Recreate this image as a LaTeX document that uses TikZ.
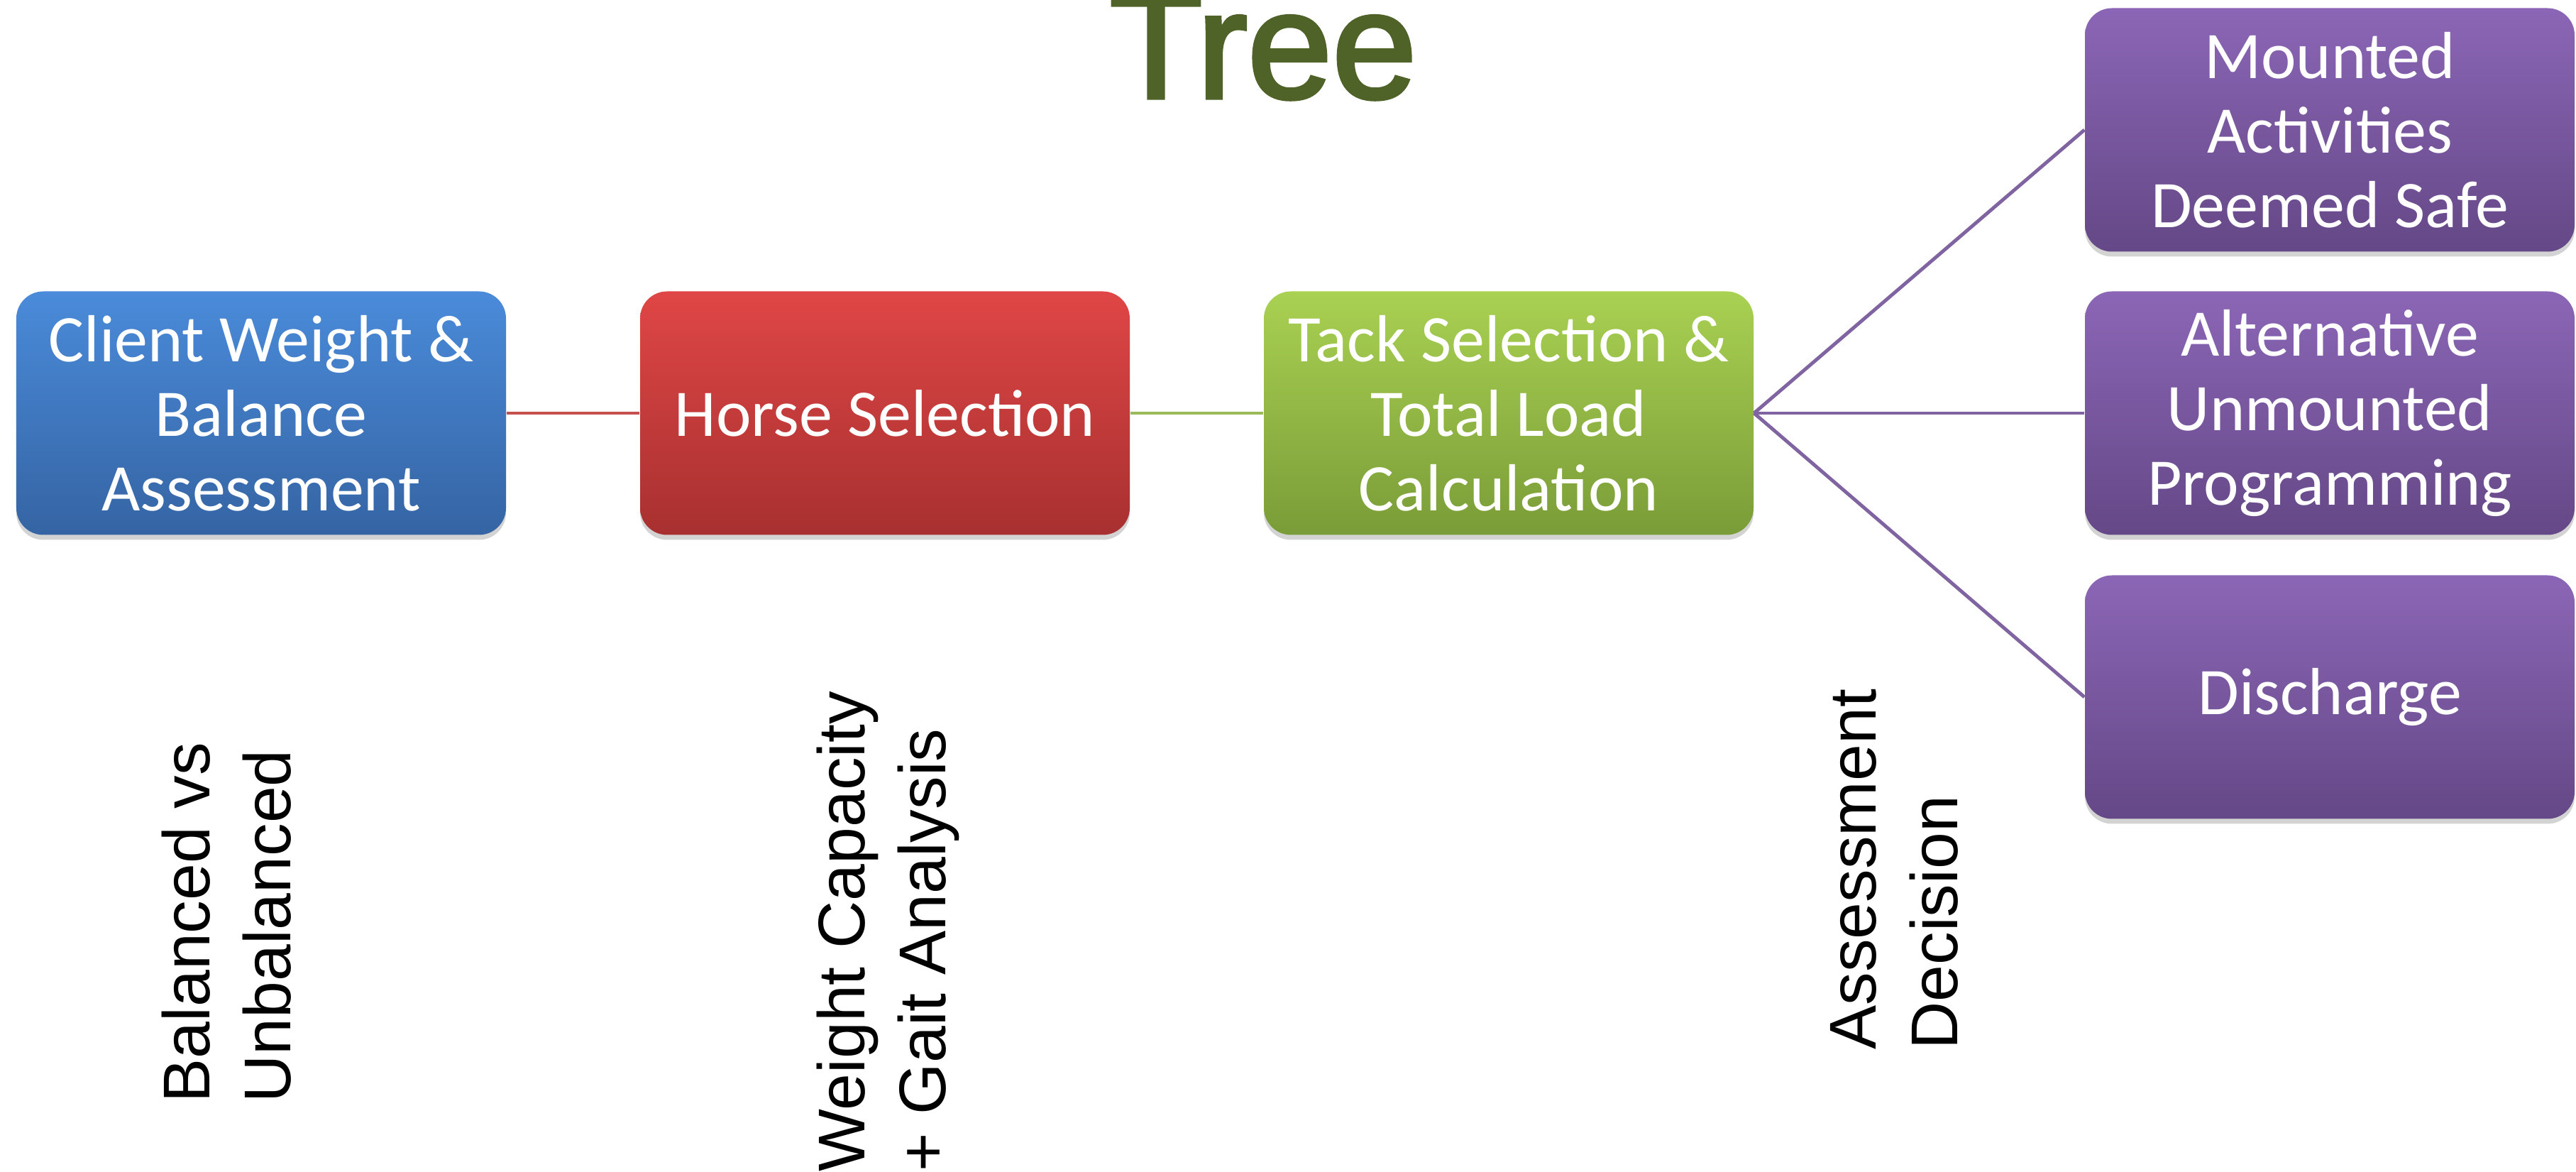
\documentclass[tikz,border=0pt]{standalone}
\usepackage{fontspec}
\setmainfont{Liberation Sans}
\newfontfamily\calfont{Carlito}
\newfontfamily\titlefont[FakeBold=2.5]{Liberation Sans}
\usetikzlibrary{shadows}

\definecolor{titlegreen}{HTML}{4F6228}
\definecolor{bluetop}{HTML}{4A8BDA}
\definecolor{bluebot}{HTML}{3564A3}
\definecolor{redtop}{HTML}{E04646}
\definecolor{redbot}{HTML}{A83030}
\definecolor{greentop}{HTML}{A9D152}
\definecolor{greenbot}{HTML}{7A9C38}
\definecolor{purptop}{HTML}{8B66B6}
\definecolor{purpbot}{HTML}{654887}
\definecolor{redline}{HTML}{C65050}
\definecolor{greenline}{HTML}{9BBB59}
\definecolor{purpline}{HTML}{8064A2}

\begin{document}
\begin{tikzpicture}[
    box/.style={rounded corners=0.38cm, minimum width=6.9cm, minimum height=3.43cm,
        align=center, text=white, font=\calfont\fontsize{26.7}{29.9}\selectfont,
        drop shadow={opacity=0.35, shadow xshift=0cm, shadow yshift=-0.07cm}},
    bluebox/.style={box, top color=bluetop, bottom color=bluebot},
    redbox/.style={box, top color=redtop, bottom color=redbot},
    greenbox/.style={box, top color=greentop, bottom color=greenbot},
    purpbox/.style={box, top color=purptop, bottom color=purpbot},
    note/.style={rotate=90, anchor=north west, align=left, inner sep=0pt,
        font=\fontsize{26.5}{32.5}\selectfont},
    link/.style={line width=1.4pt}
]
\useasboundingbox (0,0) rectangle (36.3,16.51);

\node[anchor=base, text=titlegreen, font=\titlefont\fontsize{61}{64}\selectfont] (title) at (17.80,15.13) {Tree};

% main row
\node[bluebox] (client) at (3.68,10.69) {Client Weight \&\\Balance\\Assessment};
\node[redbox] (horse) at (12.47,10.69) {Horse Selection};
\node[greenbox] (tack) at (21.26,10.69) {Tack Selection \&\\Total Load\\Calculation};

% outcomes
\node[purpbox] (safe) at (32.83,14.68) {Mounted\\Activities\\Deemed Safe};
\node[purpbox] (unmounted) at (32.83,10.69) {Alternative\\Unmounted\\Programming};
\node[purpbox] (discharge) at (32.83,6.69) {Discharge};

\draw[link, redline] (client.east) -- (horse.west);
\draw[link, greenline] (horse.east) -- (tack.west);
\foreach \n in {safe, unmounted, discharge}
{
    \draw[link, purpline] (tack.east) -- (\n.west);
}

% rotated notes
\node[note] (balance) at (2.27,0.97) {Balanced vs\\Unbalanced};
\node[note] (capacity) at (11.50,0.0) {Weight Capacity\\+ Gait Analysis};
\node[note] (decision) at (25.79,1.72) {Assessment\\Decision};
\end{tikzpicture}
\end{document}
